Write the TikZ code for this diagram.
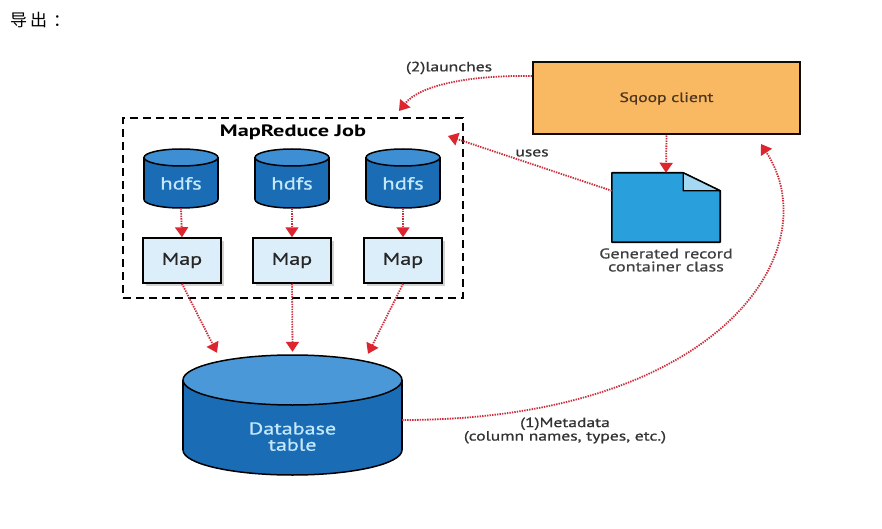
\documentclass[tikz,border=0pt]{standalone}
\usepackage{fontspec}
\setmainfont{PT Sans}[FakeStretch=1.3,FakeBold=0.8]
\newfontfamily\jobfont{PT Sans}[FakeStretch=1.35]
\newfontfamily\cjk{Noto Sans CJK SC}
\usetikzlibrary{arrows.meta,shadows,calc}
\definecolor{cylbody}{HTML}{1A6CB5}
\definecolor{cyltop}{HTML}{3D8ED3}
\definecolor{dbtop}{HTML}{4A98D8}
\definecolor{cyltxt}{HTML}{C4E8FB}
\definecolor{mapfill}{HTML}{DCEEFA}
\definecolor{sqfill}{HTML}{F9B862}
\definecolor{sqtxt}{HTML}{4A3520}
\definecolor{docfill}{HTML}{29A0DC}
\definecolor{docfold}{HTML}{A5D8F2}
\definecolor{redline}{HTML}{CC2E3C}
\definecolor{redtip}{HTML}{DD2530}
\definecolor{lbl}{HTML}{333333}
\newcommand\mycyl[7]{% cx, rx, cytop, cybot, ry, bodycolor, topcolor
  \filldraw[fill=#6,draw=black,line width=1.5pt] (#1,#4) ellipse [x radius=#2, y radius=#5];
  \fill[#6] (#1-#2,#3) rectangle (#1+#2,#4);
  \draw[line width=1.5pt] (#1-#2,#3) -- (#1-#2,#4) (#1+#2,#3) -- (#1+#2,#4);
  \filldraw[fill=#7,draw=black,line width=1.5pt] (#1,#3) ellipse [x radius=#2, y radius=#5];
}
\begin{document}
\begin{tikzpicture}[x=1pt,y=-1pt,
  conn/.style={draw=redline,line width=1.8pt,dash pattern=on 1.4pt off 1.1pt,
     -{Triangle[width=13pt,length=10pt,fill=redtip,color=redtip]}},
  cylnode/.style={inner sep=0pt,minimum width=74pt,minimum height=59pt,text=cyltxt,
     font=\fontsize{17.5}{20}\selectfont},
  mapbox/.style={draw=black,line width=1.5pt,fill=mapfill,minimum width=78pt,minimum height=45pt,
     inner sep=0pt,font=\fontsize{17}{19}\selectfont,text=black!85,
     drop shadow={shadow xshift=2.5pt,shadow yshift=-2.5pt,opacity=0.35}},
  lab/.style={font=\fontsize{13.5}{13.5}\selectfont,text=lbl,inner sep=0pt,align=center}
]
\useasboundingbox[fill=white] (0,0) rectangle (882,529);

% title
\node[anchor=west,inner sep=0pt,font=\cjk\fontsize{17}{19}\selectfont] (title) at (10,20) {导\kern3pt 出\kern6pt ：};

% MapReduce Job frame
\node[draw=black,line width=2pt,dash pattern=on 8pt off 5pt,minimum width=340pt,minimum height=180pt,inner sep=0pt] (job) at (293,208) {};
\node[font=\jobfont\bfseries\fontsize{16.5}{18}\selectfont,inner sep=0pt] (jobtitle) at (293,132) {MapReduce Job};

% hdfs cylinders
\mycyl{181}{37}{157.5}{199.5}{8.5}{cylbody}{cyltop}
\mycyl{292}{37}{157.5}{199.5}{8.5}{cylbody}{cyltop}
\mycyl{403}{37}{157.5}{199.5}{8.5}{cylbody}{cyltop}
\node[cylnode] (h1) at (181,178.5) {\raisebox{-11pt}[0pt][0pt]{hdfs}};
\node[cylnode] (h2) at (292,178.5) {\raisebox{-11pt}[0pt][0pt]{hdfs}};
\node[cylnode] (h3) at (403,178.5) {\raisebox{-11pt}[0pt][0pt]{hdfs}};

% map boxes
\node[mapbox] (m1) at (182,260.5) {Map};
\node[mapbox] (m2) at (292,260.5) {Map};
\node[mapbox] (m3) at (403,260.5) {Map};

% database
\mycyl{292.5}{109.5}{380}{450}{25}{cylbody}{dbtop}
\node[inner sep=0pt,minimum width=219pt,minimum height=120pt,text=cyltxt,
      font=\fontsize{17}{14.5}\selectfont] (db) at (292.5,415)
      {\raisebox{-28pt}[0pt][0pt]{\begin{tabular}{@{}c@{}}Database\\table\end{tabular}}};

% sqoop client
\node[draw=black!80!sqtxt,line width=2pt,fill=sqfill,minimum width=267pt,minimum height=72pt,inner sep=0pt,
      text=sqtxt,font=\fontsize{13.5}{16}\selectfont] (sq) at (666.5,98.5) {Sqoop client};

% generated document
\node[inner sep=0pt,minimum width=108pt,minimum height=69pt] (doc) at (666,207.5) {};
\filldraw[fill=docfill,draw=black,line width=1.6pt,line join=round]
  (doc.north west) -- ([xshift=-37pt]doc.north east) -- ([yshift=-18pt]doc.north east)
  -- (doc.south east) -- (doc.south west) -- cycle;
\filldraw[fill=docfold,draw=black,line width=1.4pt,line join=round]
  ([xshift=-37pt]doc.north east) -- ([xshift=-37pt,yshift=-18pt]doc.north east)
  -- ([yshift=-18pt]doc.north east) -- cycle;
\node[lab,font=\fontsize{14}{13}\selectfont,text=black!75] (doclab) at (666,260) {Generated record\\container class};

% connectors
\draw[conn] (h1.south) -- (m1.north);
\draw[conn] (h2.south) -- (m2.north);
\draw[conn] (h3.south) -- (m3.north);
\draw[conn] (m1.south) -- ([xshift=-75.5pt,yshift=2pt]db.north);
\draw[conn] (m2.south) -- ([yshift=3pt]db.north);
\draw[conn] (m3.south) -- ([xshift=75.5pt,yshift=1pt]db.north);
\draw[conn] (sq.south) -- (doc.north);
\draw[conn] ([yshift=-18pt]doc.north west) -- ([xshift=-16pt,yshift=-19pt]job.north east);
\draw[conn] ([yshift=-14.5pt]sq.north west) .. controls (470,75) and (420,85) .. ([xshift=-65pt,yshift=6pt]job.north east);
\draw[conn] ([yshift=-5pt]db.east) .. controls (720,420) and (830,250) .. ([xshift=-40pt,yshift=-8.5pt]sq.south east);

% labels
\node[lab] (llaunch) at (449,68) {(2)launches};
\node[lab] (luses) at (532,153) {uses};
\node[lab] (lmeta) at (565,430.5) {(1)Metadata\\(column names, types, etc.)};
\end{tikzpicture}
\end{document}
